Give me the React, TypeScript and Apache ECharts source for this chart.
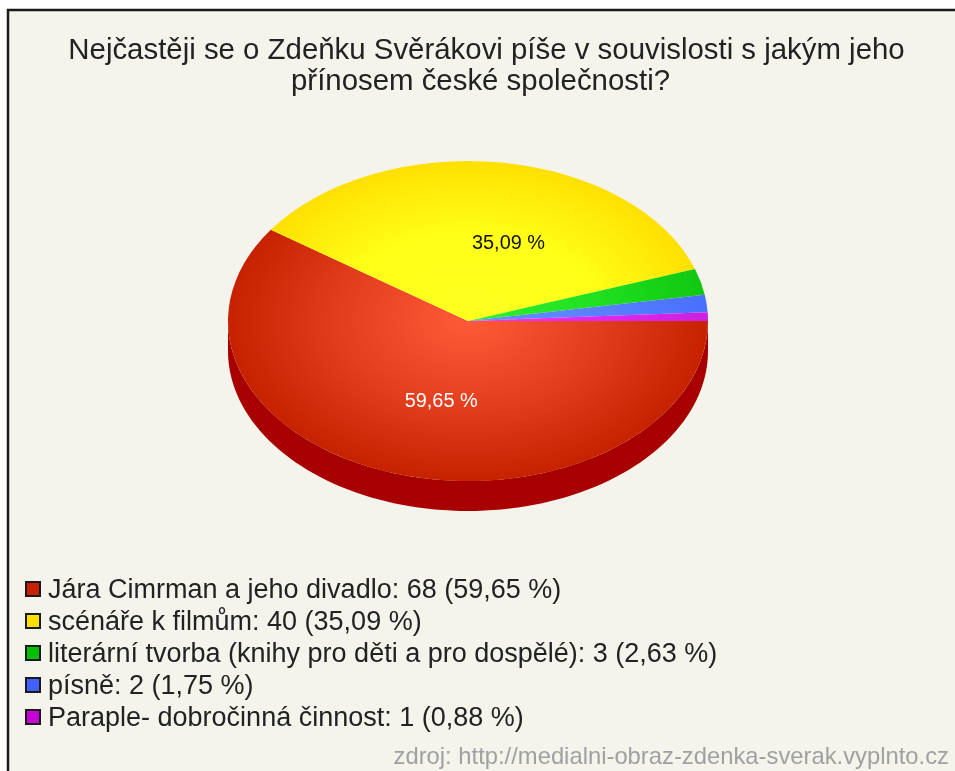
import React, { useEffect, useRef } from "react";
import * as echarts from "echarts";

const categories = [
  "Jára Cimrman a jeho divadlo",
  "scénáře k filmům",
  "literární tvorba (knihy pro děti a pro dospělé)",
  "písně",
  "Paraple- dobročinná činnost",
];
const counts = [68, 40, 3, 2, 1];
const percents = ["59,65", "35,09", "2,63", "1,75", "0,88"];

const legendColors = ["#c82000", "#ffe000", "#00c000", "#4060ff", "#c800d8"];
const edgeColors = ["#c62200", "#ffe000", "#10c810", "#4870ff", "#cc20e0"];
const midColors = ["#e23e1e", "#ffff18", "#20e020", "#5880ff", "#e028ec"];
const centerColors = ["#ff5a38", "#ffff20", "#30f030", "#6890ff", "#f038f4"];
const wallColors = ["#a80000", "#c0a000", "#008000", "#2040b0", "#800090"];
const labelColors = ["#ffffff", "#111111"];
const labelNudgeX = [9, 24];
const labelNudgeY = [3, 0];

const TITLE_LINES = [
  "Nejčastěji se o Zdeňku Svěrákovi píše v souvislosti s jakým jeho",
  "přínosem české společnosti?",
];
const SOURCE = "zdroj: http://medialni-obraz-zdenka-sverak.vyplnto.cz";

const CX = 468;
const CY = 321;
const RX = 240;
const RY = 160;
const DEPTH = 30;
const FONT = '"Liberation Sans", Arial, sans-serif';

const total = counts.reduce((a, b) => a + b, 0);
const startOf = (idx: number) =>
  (counts.slice(0, idx).reduce((a, b) => a + b, 0) / total) * Math.PI * 2;

function makeRenderItem(idx: number) {
  return (_params: any, api: any) => {
    const start = startOf(idx);
    const end = start + (api.value(0) / total) * Math.PI * 2;
    const children: any[] = [];

    const wallStart = Math.max(start, 0);
    const wallEnd = Math.min(end, Math.PI);
    if (wallEnd > wallStart) {
      const top: number[][] = [];
      const bottom: number[][] = [];
      const steps = 90;
      for (let i = 0; i <= steps; i++) {
        const a = wallStart + ((wallEnd - wallStart) * i) / steps;
        const px = CX + RX * Math.cos(a);
        const py = CY + RY * Math.sin(a);
        top.push([px, py]);
        bottom.unshift([px, py + DEPTH]);
      }
      children.push({
        type: "polygon",
        shape: { points: top.concat(bottom) },
        style: { fill: wallColors[idx] },
        z2: 1,
      });
    }

    children.push({
      type: "sector",
      x: CX,
      y: CY,
      scaleY: RY / RX,
      shape: { cx: 0, cy: 0, r: RX, r0: 0, startAngle: start, endAngle: end, clockwise: true },
      style: {
        fill: {
          type: "radial",
          x: 0,
          y: 0,
          r: RX,
          global: true,
          colorStops: [
            { offset: 0, color: centerColors[idx] },
            { offset: 0.55, color: midColors[idx] },
            { offset: 1, color: edgeColors[idx] },
          ],
        },
      },
      z2: 2,
    });

    if (idx < labelColors.length) {
      const mid = (start + end) / 2;
      children.push({
        type: "text",
        x: CX + 0.5 * RX * Math.cos(mid) + labelNudgeX[idx],
        y: CY + 0.5 * RY * Math.sin(mid) + labelNudgeY[idx],
        style: {
          text: `${percents[idx]} %`,
          fill: labelColors[idx],
          font: `19.9px ${FONT}`,
          align: "center",
          verticalAlign: "middle",
        },
        z2: 3,
      });
    }
    return { type: "group", children };
  };
}

export default function App() {
  const ref = useRef<HTMLDivElement>(null);
  useEffect(() => {
    const chart = echarts.init(ref.current!, null, { renderer: "svg" });
    const titleStyle = { fontFamily: FONT, fontSize: 29.4, fontWeight: "normal", color: "#222222" };
    chart.setOption({
      animation: false,
      backgroundColor: "#ffffff",
      title: [
        { text: TITLE_LINES[0], left: 481.5, top: 29, textAlign: "center", textStyle: titleStyle },
        { text: TITLE_LINES[1], left: 475.5, top: 60, textAlign: "center", textStyle: titleStyle },
      ],
      legend: {
        orient: "vertical",
        left: 20,
        top: 568,
        itemWidth: 14,
        itemHeight: 14,
        itemGap: 0,
        icon: "rect",
        selectedMode: false,
        data: categories,
        itemStyle: { borderColor: "#1a1a1a", borderWidth: 2 },
        formatter: (name: string) => {
          const i = categories.indexOf(name);
          return `${name}: ${counts[i]} (${percents[i]} %)`;
        },
        textStyle: { fontFamily: FONT, fontSize: 27, color: "#222222", lineHeight: 32, padding: [0, 0, 0, 3] },
      },
      graphic: [
        {
          type: "rect",
          z: -10,
          shape: { x: 8, y: 10, width: 980, height: 800 },
          style: { fill: "#f4f4ec", stroke: "#1a1a1a", lineWidth: 2.5 },
        },
        {
          type: "text",
          z: 10,
          x: 949,
          y: 755,
          style: {
            text: SOURCE,
            fill: "#a0a0a0",
            font: `23.8px ${FONT}`,
            align: "right",
            verticalAlign: "middle",
          },
        },
      ],
      series: categories.map((name, idx) => ({
        type: "custom",
        name,
        coordinateSystem: "none",
        silent: true,
        itemStyle: { color: legendColors[idx] },
        data: [[counts[idx]]],
        renderItem: makeRenderItem(idx),
      })),
    });
    return () => chart.dispose();
  }, []);
  return <div ref={ref} style={{ position: "absolute", left: 0, top: 0, width: 955, height: 771, filter: "blur(0.5px)" }} />;
}
